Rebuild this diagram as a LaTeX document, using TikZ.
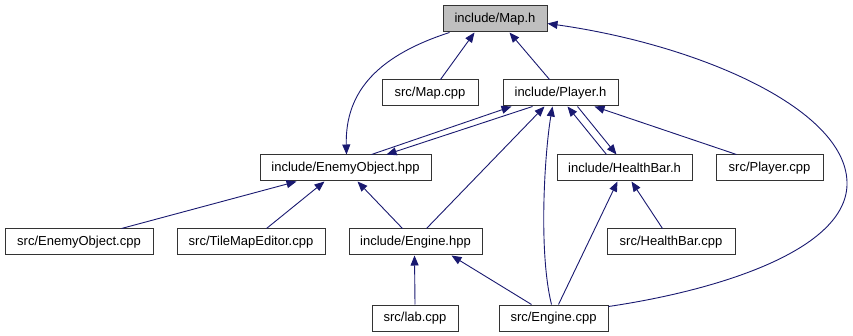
\documentclass[tikz,border=0pt]{standalone}
\usepackage{fontspec}
\setmainfont{Liberation Sans}
\usetikzlibrary{arrows.meta}
\definecolor{edgeblue}{HTML}{191970}
\definecolor{rootgray}{HTML}{BFBFBF}
\definecolor{boxline}{HTML}{333333}
\begin{document}
\begin{tikzpicture}[x=1pt,y=-1pt,
  filebox/.style={draw=boxline, line width=1pt, fill=white, rectangle,
    minimum height=26pt, inner sep=0pt, font=\fontsize{13}{15}\selectfont},
  rootbox/.style={filebox, fill=rootgray},
  dep/.style={draw=edgeblue, line width=0.9pt,
    -{Triangle[length=10pt,width=8pt]}}]
\useasboundingbox (0,0) rectangle (853,336);

% files
\node[rootbox, minimum width=104pt] (map)    at (495,19)    {include/Map.h};
\node[filebox, minimum width=96pt]  (mapcpp) at (430,93)    {src/Map.cpp};
\node[filebox, minimum width=115pt] (player) at (560.5,93)  {include/Player.h};
\node[filebox, minimum width=171pt] (eo)     at (345.5,168) {include/EnemyObject.hpp};
\node[filebox, minimum width=135pt] (hb)     at (624.5,168) {include/HealthBar.h};
\node[filebox, minimum width=107pt] (pcpp)   at (769.5,168) {src/Player.cpp};
\node[filebox, minimum width=148pt] (eocpp)  at (79,242)    {src/EnemyObject.cpp};
\node[filebox, minimum width=148pt] (tme)    at (251,242)   {src/TileMapEditor.cpp};
\node[filebox, minimum width=133pt] (ehpp)   at (415.5,242) {include/Engine.hpp};
\node[filebox, minimum width=128pt] (hbcpp)  at (671,242)   {src/HealthBar.cpp};
\node[filebox, minimum width=86pt]  (lab)    at (415,318)   {src/lab.cpp};
\node[filebox, minimum width=109pt] (ecpp)   at (553.5,318) {src/Engine.cpp};

% dependencies on include/Map.h
\draw[dep] ([xshift=59pt]mapcpp.north west) -- ([xshift=32pt]map.south west);
\draw[dep] ([xshift=47pt]player.north west) -- ([xshift=67pt]map.south west);
\draw[dep] ([xshift=7pt]map.south west)
  .. controls (380,55) and (345,90) .. ([xshift=87pt]eo.north west);
\draw[dep] ([yshift=-2pt]ecpp.north east)
  .. controls (720,290) and (845,250) .. (847,185)
  .. controls (849,110) and (700,45) .. ([yshift=-18pt]map.north east);

% dependencies on include/Player.h
\draw[dep] ([xshift=112pt]eo.north west) -- ([xshift=9pt]player.south west);
\draw[dep] ([xshift=30pt]player.south west) -- ([xshift=127pt]eo.north west);
\draw[dep] ([xshift=78pt]ehpp.north west) -- ([xshift=42pt]player.south west);
\draw[dep] ([xshift=53pt]ecpp.north west)
  .. controls (538,250) and (545,150) .. ([xshift=50pt]player.south west);
\draw[dep] ([xshift=50pt]hb.north west) -- ([xshift=65pt]player.south west);
\draw[dep] ([xshift=75pt]player.south west) -- ([xshift=60pt]hb.north west);
\draw[dep] ([xshift=21pt]pcpp.north west) -- ([xshift=92pt]player.south west);

% dependencies on include/EnemyObject.hpp
\draw[dep] ([xshift=117pt]eocpp.north west) -- ([xshift=37pt]eo.south west);
\draw[dep] ([xshift=90pt]tme.north west) -- ([xshift=65pt]eo.south west);
\draw[dep] ([xshift=54pt]ehpp.north west) -- ([xshift=98pt]eo.south west);

% dependencies on include/HealthBar.h
\draw[dep] ([xshift=60pt]ecpp.north west) -- ([xshift=61pt]hb.south west);
\draw[dep] ([xshift=56pt]hbcpp.north west) -- ([xshift=75pt]hb.south west);

% dependencies on include/Engine.hpp
\draw[dep] (lab.north) -- ([xshift=66pt]ehpp.south west);
\draw[dep] ([xshift=33pt]ecpp.north west) -- ([xshift=103pt]ehpp.south west);
\end{tikzpicture}
\end{document}
